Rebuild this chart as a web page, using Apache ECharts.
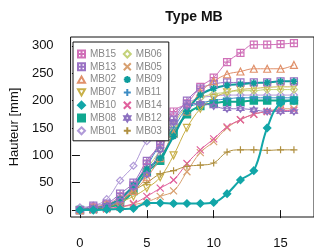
<!DOCTYPE html>
<html>
<head>
<meta charset="utf-8">
<script src="https://cdn.jsdelivr.net/npm/echarts@6/dist/echarts.min.js"></script>
<style>html,body{margin:0;padding:0;background:#fff}#c{width:314px;height:250px}</style>
</head>
<body>
<div id="c"></div>
<script>
const days = [0,1,2,3,4,5,6,7,8,9,10,11,12,13,14,15,16];
const xTicks = [0,5,10,15];
const yTicks = [0,50,100,150,200,250,300];
const names = ['MB15','MB13','MB02','MB07','MB10','MB08','MB01','MB06','MB05','MB09','MB11','MB14','MB12','MB03'];
const MB15 = [0,5,10,25,45,85,125,180,195,225,242,270,287,302,302,303,305];
const MB13 = [0,8,12,30,50,90,120,165,200,222,230,233,233,233,233,235,235];
const MB02 = [0,5,10,20,35,60,95,140,180,215,235,248,253,258,258,258,265];
const MB07 = [0,3,8,15,25,40,60,100,150,185,205,215,220,222,224,225,225];
const MB10 = [0,0,1,2,3,13,13,12,12,12,14,30,55,72,150,195,200];
const MB08 = [0,2,5,12,35,70,90,140,175,190,195,198,198,200,200,200,200];
const MB01 = [5,8,20,54,81,126,145,175,195,205,208,210,210,210,210,210,210];
const MB06 = [0,4,10,20,40,75,110,155,190,205,212,215,218,218,220,220,220];
const MB05 = [0,0,2,5,10,15,25,35,70,105,125,150,165,175,180,185,185];
const MB09 = [0,3,8,20,45,75,95,135,180,210,222,228,230,232,233,235,235];
const MB11 = [0,2,6,15,40,80,120,150,185,195,200,203,205,205,205,205,205];
const MB14 = [0,1,3,6,12,25,40,55,85,110,130,152,165,175,180,182,182];
const MB12 = [0,3,8,18,42,65,110,160,190,195,190,185,185,183,180,180,180];
const MB03 = [0,2,5,15,35,50,66,72,80,82,86,106,110,110,109,110,110];
const values = {MB15,MB13,MB02,MB07,MB10,MB08,MB01,MB06,MB05,MB09,MB11,MB14,MB12,MB03};

const P = {
  sqPlus: 'path://M0,0L10,0L10,10L0,10ZM5,0L5,10M0,5L10,5',
  tri: 'path://M5,0L10,9L0,9Z',
  triDown: 'path://M0,0L10,0L5,9Z',
  diaPlus: 'path://M5,0L10,5L5,10L0,5ZM5,0L5,10M0,5L10,5',
  dia: 'path://M5,0L10,5L5,10L0,5Z',
  rect: 'rect',
  plus: 'path://M5,0L5,10M0,5L10,5',
  cross: 'path://M0,0L10,10M10,0L0,10',
  aster: 'path://M5,0L5,10M0,5L10,5M1.5,1.5L8.5,8.5M8.5,1.5L1.5,8.5',
  david: 'path://M5,0L9.33,7.5L0.67,7.5ZM5,10L0.67,2.5L9.33,2.5Z'
};
const style = {
  MB15: {c:'#d070b8', s:P.sqPlus, f:false, z:8},
  MB13: {c:'#9a72c4', s:P.sqPlus, f:false, z:8},
  MB02: {c:'#e0906a', s:P.tri, f:false, z:8},
  MB07: {c:'#c8b048', s:P.triDown, f:false, z:7},
  MB10: {c:'#12a6a8', s:P.diaPlus, f:true, z:9, w:2},
  MB08: {c:'#10a890', s:P.rect, f:true, z:6, w:2},
  MB01: {c:'#b09ad8', s:P.dia, f:false, z:5},
  MB06: {c:'#c4d27a', s:P.dia, f:false, z:7},
  MB05: {c:'#d8a070', s:P.cross, f:false, z:7},
  MB09: {c:'#0c9c9c', s:P.aster, f:true, z:8, w:2},
  MB11: {c:'#3c8cc4', s:P.plus, f:false, z:7},
  MB14: {c:'#e0609c', s:P.cross, f:false, z:7},
  MB12: {c:'#8c70c0', s:P.david, f:false, z:8},
  MB03: {c:'#b09040', s:P.plus, f:false, z:7}
};

const series = names.map(n => {
  const st = style[n];
  return {
    name: n, type: 'line', smooth: 0.4,
    data: days.map((d, i) => [d, values[n][i]]),
    symbol: st.s, symbolSize: 7,
    lineStyle: {color: st.c, width: st.w || 1},
    itemStyle: {color: st.f ? st.c : 'rgba(255,255,255,0)', borderColor: st.c, borderWidth: st.f ? 1.5 : 1.2},
    emphasis: {disabled: true},
    z: st.z
  };
});

const chart = echarts.init(document.getElementById('c'), null, {renderer: 'canvas'});
chart.setOption({
  animation: false,
  backgroundColor: '#fff',
  title: {text: 'Type MB', left: 189, top: 5, textAlign: 'center',
    textStyle: {fontFamily: 'Liberation Sans', fontWeight: 'bold', fontSize: 14, color: '#111'}},
  grid: {left: 67, top: 37, right: -12, bottom: 30, show: true, borderColor: '#111', borderWidth: 1, backgroundColor: '#fff'},
  legend: {
    left: 73, top: 42, orient: 'vertical', height: 88,
    padding: [7, 3, 5, 4], itemGap: 2.8, itemWidth: 7, itemHeight: 7,
    borderColor: '#111', borderWidth: 1, backgroundColor: '#fff',
    selectedMode: false,
    textStyle: {fontFamily: 'Liberation Sans', fontSize: 10, lineHeight: 10, color: '#888', width: 30},
    data: names.map(n => ({name: n, icon: style[n].s})),
    z: 20
  },
  xAxis: {
    type: 'value', min: -0.7, max: 17.5,
    splitLine: {show: false}, axisLine: {show: false},
    axisTick: {show: true, length: 8, customValues: xTicks, lineStyle: {color: '#111'}},
    axisLabel: {customValues: xTicks, margin: 20, fontFamily: 'Liberation Sans', fontSize: 13, color: '#111'}
  },
  yAxis: {
    type: 'value', min: -12.6, max: 316,
    name: 'Hauteur [mm]', nameLocation: 'middle', nameGap: 47, nameRotate: 90,
    nameTextStyle: {fontFamily: 'Liberation Sans', fontSize: 13, color: '#111'},
    splitLine: {show: false}, axisLine: {show: false},
    axisTick: {show: true, length: 8, customValues: yTicks, lineStyle: {color: '#111'}},
    axisLabel: {customValues: yTicks, margin: 17, fontFamily: 'Liberation Sans', fontSize: 13, color: '#111'}
  },
  series
});
</script>
</body>
</html>
